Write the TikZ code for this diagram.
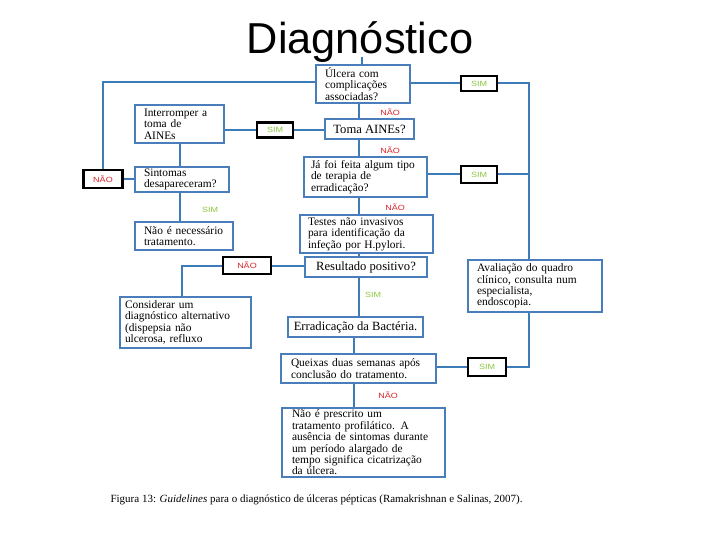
\documentclass[tikz,border=0pt]{standalone}
\usepackage{fontspec}
\setmainfont{Liberation Serif}
\newfontfamily\titlefont{Liberation Sans}
\newfontfamily\lblfont[FakeStretch=1.2]{Liberation Sans}
\usetikzlibrary{backgrounds}
\definecolor{linecol}{HTML}{3C7CB9}
\definecolor{boxcol}{HTML}{4A7EBB}
\definecolor{simcol}{HTML}{8CC63F}
\definecolor{naocol}{HTML}{D8232A}
\tikzset{
  fbox/.style={draw=boxcol, line width=2pt, fill=white, inner sep=0pt, align=left,
    font=\fontsize{11.4}{11.4}\selectfont},
  onebox/.style={draw=boxcol, line width=2pt, fill=white, inner sep=0pt, align=center,
    font=\fontsize{12.6}{13}\selectfont},
  lblbox/.style={draw=black, line width=2.2pt, fill=white, inner sep=0pt},
  simtxt/.style={text=simcol, font=\lblfont\fontsize{7.5}{8}\selectfont},
  naotxt/.style={text=naocol, font=\lblfont\fontsize{7.5}{8}\selectfont},
  conn/.style={draw=linecol, line width=2pt},
}
\begin{document}
\begin{tikzpicture}[x=1pt,y=-1pt]
\useasboundingbox (0,0) rectangle (720,540);
\node[font=\titlefont\fontsize{43.3}{46}\selectfont] (title) at (360,42) {Diagnóstico};

% main column boxes
\node[fbox, minimum width=94pt, minimum height=38pt, text width=76pt] (ulc) at (363,84) {Úlcera com\\complicações\\associadas?};
\node[onebox, minimum width=89pt, minimum height=20pt] (toma) at (369.5,129) {Toma AINEs?};
\node[fbox, minimum width=123pt, minimum height=40pt, text width=109pt] (jafoi) at (365.5,177) {Já foi feita algum tipo\\de terapia de\\erradicação?};
\node[fbox, minimum width=133pt, minimum height=38pt, text width=117pt] (testes) at (366.5,234) {Testes não invasivos\\para identificação da\\infeção por H.pylori.};
\node[onebox, minimum width=122pt, minimum height=20pt] (result) at (366,267) {Resultado positivo?};
\node[onebox, minimum width=135pt, minimum height=20pt] (errad) at (355.5,327) {Erradicação da Bactéria.};
\node[fbox, minimum width=155pt, minimum height=29pt, text width=135pt] (queixas) at (358.5,368.5) {Queixas duas semanas após\\conclusão do tratamento.};
\node[fbox, minimum width=163pt, minimum height=69pt, text width=143pt] (final) at (363.5,442.5) {Não é prescrito um\\tratamento profilático. A\\ausência de sintomas durante\\um período alargado de\\tempo significa cicatrização\\da úlcera.};

% left boxes
\node[fbox, minimum width=89pt, minimum height=38pt, text width=71pt] (interr) at (179.5,124) {Interromper a\\toma de\\AINEs};
\node[fbox, minimum width=94pt, minimum height=25pt, text width=76pt] (sint) at (182,179.5) {Sintomas\\desapareceram?};
\node[fbox, minimum width=98pt, minimum height=28pt, text width=80pt] (naonec) at (184,236) {Não é necessário\\tratamento.};
\node[fbox, minimum width=131pt, minimum height=51pt, text width=121pt] (consid) at (185.5,322.5) {Considerar um\\diagnóstico alternativo\\(dispepsia não\\ulcerosa, refluxo};

% right box
\node[fbox, minimum width=134pt, minimum height=52pt, text width=116pt] (aval) at (535,286) {Avaliação do quadro\\clínico, consulta num\\especialista,\\endoscopia.};

% label boxes
\node[lblbox, simtxt, minimum width=36pt, minimum height=15pt] (sim1) at (479,83.5) {SIM};
\node[lblbox, simtxt, minimum width=36pt, minimum height=17pt] (sim2) at (479,174.5) {SIM};
\node[lblbox, simtxt, minimum width=38pt, minimum height=18pt] (sim3) at (487,367) {SIM};
\node[lblbox, simtxt, minimum width=36pt, minimum height=15pt] (simL) at (275,130) {SIM};
\node[lblbox, naotxt, minimum width=39pt, minimum height=18pt] (naoL) at (103,179) {NÃO};
\node[lblbox, naotxt, minimum width=48pt, minimum height=17pt] (naoM) at (247,265.5) {NÃO};

% free labels
\node[naotxt] (n1) at (390,112) {NÃO};
\node[naotxt] (n2) at (390,150) {NÃO};
\node[naotxt] (n3) at (395,207) {NÃO};
\node[naotxt] (n4) at (388,395) {NÃO};
\node[simtxt] (s1) at (210,210) {SIM};
\node[simtxt] (s2) at (373,295) {SIM};

% coordinates
\coordinate (mx) at (359,0);
\coordinate (qx) at (354,0);
\coordinate (rx) at (529,0);
\coordinate (lx) at (103,82);
\coordinate (cx) at (182,265.5);
\coordinate (stub) at (362,57);

\begin{scope}[on background layer]
\draw[conn] (stub) -- (stub |- ulc.north);
% main column
\draw[conn] (ulc.south -| mx) -- (result.north -| mx);
\draw[conn] (result.south -| mx) -- (errad.north -| mx);
\draw[conn] (errad.south -| qx) -- (final.north -| qx);
% right side
\draw[conn] (ulc.east |- sim1) -- (sim1.west);
\draw[conn] (sim1.east) -- (sim1 -| rx) -- (aval.north -| rx);
\draw[conn] (jafoi.east |- sim2) -- (sim2.west);
\draw[conn] (sim2.east) -- (sim2 -| rx);
\draw[conn] (aval.south -| rx) -- (sim3 -| rx) -- (sim3.east);
\draw[conn] (sim3.west) -- (sim3 -| queixas.east);
% left side
\draw[conn] (lx -| ulc.west) -- (lx) -- (naoL.north);
\draw[conn] (naoL.east) -- (naoL -| sint.west);
\draw[conn] (toma.west |- simL) -- (simL.east);
\draw[conn] (simL.west) -- (simL -| interr.east);
\draw[conn] (interr.south) -- (interr.south |- sint.north);
\draw[conn] (sint.south -| interr.south) -- (naonec.north -| interr.south);
\draw[conn] (result.west |- naoM) -- (naoM.east);
\draw[conn] (naoM.west) -- (cx) -- (cx |- consid.north);
\end{scope}

\node[anchor=west, font=\fontsize{11}{12}\selectfont] (cap) at (107,500) {Figura 13: \textit{Guidelines} para o diagnóstico de úlceras pépticas (Ramakrishnan e Salinas, 2007).};
\end{tikzpicture}
\end{document}
